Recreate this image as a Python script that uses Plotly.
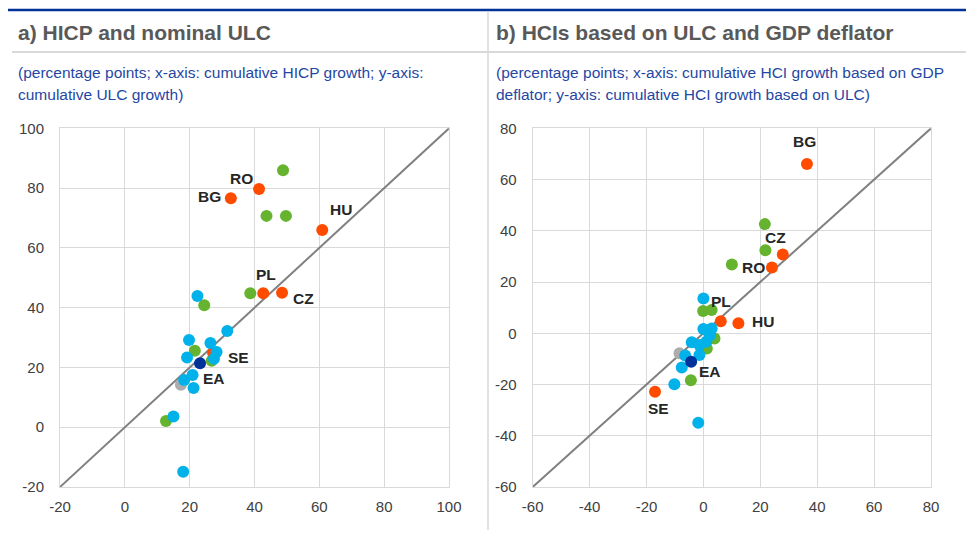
import plotly.graph_objects as go

W, H = 966, 535

# ---------------- data ----------------
# Panel a: x = cumulative HICP growth, y = cumulative ULC growth
a_orange_names = ["BG", "CZ", "HU", "PL", "RO", "SE"]
a_orange_x = [32.7, 48.5, 60.9, 42.7, 41.4, 27.2]
a_orange_y = [76.6, 45.0, 66.0, 44.8, 79.7, 24.9]
a_green_x = [48.8, 43.7, 49.7, 38.7, 24.5, 21.6, 26.8, 12.7]
a_green_y = [86.0, 70.7, 70.7, 44.8, 40.8, 25.6, 22.2, 2.1]
a_cyan_x = [22.4, 31.6, 19.8, 26.4, 28.3, 27.5, 19.2, 20.9, 18.3, 21.2, 15.0, 18.0]
a_cyan_y = [43.9, 32.2, 29.2, 28.2, 25.2, 22.9, 23.3, 17.5, 15.8, 13.1, 3.6, -14.9]
a_gray_x = [17.3]
a_gray_y = [14.2]
a_ea_x = [23.2]
a_ea_y = [21.4]

# Panel b: x = HCI growth (GDP deflator), y = HCI growth (ULC)
b_orange_names = ["BG", "CZ", "HU", "PL", "RO", "SE"]
b_orange_x = [36.4, 27.9, 12.3, 6.1, 24.1, -17.0]
b_orange_y = [66.1, 30.7, 3.9, 4.7, 25.7, -22.8]
b_green_x = [21.6, 21.8, 10.0, -0.1, 2.9, 3.9, 1.2, -4.4]
b_green_y = [42.6, 32.4, 26.8, 8.7, 9.1, -2.0, -5.9, -18.3]
b_cyan_x = [0.0, 0.0, 2.9, -4.1, 1.0, -1.4, 2.3, -6.4, -1.4, -7.6, -10.2, -1.8]
b_cyan_y = [13.6, 1.7, 1.9, -3.5, -3.3, -4.6, -0.8, -8.7, -8.5, -13.4, -19.9, -34.9]
b_gray_x = [-8.4]
b_gray_y = [-7.8]
b_ea_x = [-4.3]
b_ea_y = [-11.1]

a_range = [-20, 100]
b_range = [-60, 80]
a_ticks = [-20, 0, 20, 40, 60, 80, 100]
b_ticks = [-60, -40, -20, 0, 20, 40, 60, 80]
a_ticktext = [str(v) for v in a_ticks]
b_ticktext = [str(v) for v in b_ticks]

titles = ["a) HICP and nominal ULC", "b) HCIs based on ULC and GDP deflator"]
subtitles = [
    ["(percentage points; x-axis: cumulative HICP growth; y-axis:", "cumulative ULC growth)"],
    ["(percentage points; x-axis: cumulative HCI growth based on GDP", "deflator; y-axis: cumulative HCI growth based on ULC)"],
]

# label offsets in pixels (dx, dy) for each named country, per panel
a_label_shift = {"BG": (-21, 2), "CZ": (21, -6), "HU": (19, 20), "PL": (3, 19), "RO": (-18, 10), "SE": (25, -5)}
b_label_shift = {"BG": (-2, 22), "CZ": (-7, 17), "HU": (25, 2), "PL": (0, 20), "RO": (-18, 0), "SE": (3, -17)}
a_ea_shift = (14, -15)
b_ea_shift = (19, -10)

# ---------------- styles ----------------
ORANGE = "#FF4B00"
GREEN = "#65B32E"
CYAN = "#00B1EA"
NAVY = "#003299"
GRAY = "#ADADAD"
FONT = "Liberation Sans, Arial, sans-serif"
MS = 12

fig = go.Figure()


def add_panel(xa, ya, rng, ox, oy, gx, gy, cx, cy, grx, gry, ex, ey):
    fig.add_trace(go.Scatter(x=rng, y=rng, mode="lines", line=dict(color="#808080", width=2),
                             xaxis=xa, yaxis=ya, hoverinfo="skip", showlegend=False))
    fig.add_trace(go.Scatter(x=grx, y=gry, mode="markers", marker=dict(color=GRAY, size=MS),
                             xaxis=xa, yaxis=ya, showlegend=False))
    fig.add_trace(go.Scatter(x=ox, y=oy, mode="markers", marker=dict(color=ORANGE, size=MS),
                             xaxis=xa, yaxis=ya, showlegend=False))
    fig.add_trace(go.Scatter(x=gx, y=gy, mode="markers", marker=dict(color=GREEN, size=MS),
                             xaxis=xa, yaxis=ya, showlegend=False))
    fig.add_trace(go.Scatter(x=cx, y=cy, mode="markers", marker=dict(color=CYAN, size=MS),
                             xaxis=xa, yaxis=ya, showlegend=False))
    fig.add_trace(go.Scatter(x=ex, y=ey, mode="markers", marker=dict(color=NAVY, size=MS),
                             xaxis=xa, yaxis=ya, showlegend=False))


add_panel("x", "y", a_range, a_orange_x, a_orange_y, a_green_x, a_green_y, a_cyan_x, a_cyan_y,
          a_gray_x, a_gray_y, a_ea_x, a_ea_y)
add_panel("x2", "y2", b_range, b_orange_x, b_orange_y, b_green_x, b_green_y, b_cyan_x, b_cyan_y,
          b_gray_x, b_gray_y, b_ea_x, b_ea_y)

annotations = []
lab_font = dict(family=FONT, size=15.5, color="#262626", weight="bold")


def add_labels(names, xs, ys, shifts, xref, yref, ex, ey, eshift):
    for n, x, y in zip(names, xs, ys):
        dx, dy = shifts[n]
        annotations.append(dict(x=x, y=y, xref=xref, yref=yref, text=n, showarrow=False,
                                xshift=dx, yshift=dy, font=lab_font))
    annotations.append(dict(x=ex[0], y=ey[0], xref=xref, yref=yref, text="EA", showarrow=False,
                            xshift=eshift[0], yshift=eshift[1], font=lab_font))


add_labels(a_orange_names, a_orange_x, a_orange_y, a_label_shift, "x", "y", a_ea_x, a_ea_y, a_ea_shift)
add_labels(b_orange_names, b_orange_x, b_orange_y, b_label_shift, "x2", "y2", b_ea_x, b_ea_y, b_ea_shift)


def px(xp):
    return xp / W


def py(yp):
    return 1 - yp / H


for i, x0 in enumerate([16, 494]):
    annotations.append(dict(x=px(x0), y=py(32), xref="paper", yref="paper", xanchor="left",
                            yanchor="middle", showarrow=False, text="<b>" + titles[i] + "</b>",
                            font=dict(family=FONT, size=21, color="#595959")))
    for j, yy in enumerate([73, 94]):
        annotations.append(dict(x=px(x0), y=py(yy), xref="paper", yref="paper", xanchor="left",
                                yanchor="middle", showarrow=False, text=subtitles[i][j],
                                font=dict(family=FONT, size=15.5, color="#1F47A3")))

shapes = [
    dict(type="line", xref="paper", yref="paper", x0=px(8), x1=px(966), y0=py(10), y1=py(10),
         line=dict(color="#003299", width=2.5)),
    dict(type="line", xref="paper", yref="paper", x0=px(12), x1=px(966), y0=py(52), y1=py(52),
         line=dict(color="#D9D9D9", width=2)),
    dict(type="line", xref="paper", yref="paper", x0=px(488), x1=px(488), y0=py(11), y1=py(530),
         line=dict(color="#D9D9D9", width=1.5)),
]

ydom = [py(487), py(128.3)]
axis_common = dict(showgrid=True, gridcolor="#D9D9D9", gridwidth=1, zeroline=False,
                   showline=True, linecolor="#D9D9D9", linewidth=1, mirror=True,
                   ticks="", tickfont=dict(family=FONT, size=15, color="#404040"),
                   tickmode="array", automargin=False, fixedrange=True)

fig.update_layout(
    template="none",
    width=W, height=H,
    margin=dict(l=0, r=0, t=0, b=0, pad=0, autoexpand=False),
    paper_bgcolor="white", plot_bgcolor="white",
    showlegend=False,
    xaxis=dict(domain=[px(60), px(449)], range=a_range, anchor="y", tickvals=a_ticks, ticktext=a_ticktext,
               ticklabelstandoff=6, **axis_common),
    yaxis=dict(domain=ydom, range=a_range, anchor="x", tickvals=a_ticks, ticktext=a_ticktext,
               ticklabelstandoff=12, **axis_common),
    xaxis2=dict(domain=[px(532.7), px(931)], range=b_range, anchor="y2", tickvals=b_ticks, ticktext=b_ticktext,
                ticklabelstandoff=6, **axis_common),
    yaxis2=dict(domain=ydom, range=b_range, anchor="x2", tickvals=b_ticks, ticktext=b_ticktext,
                ticklabelstandoff=12, **axis_common),
    annotations=annotations,
    shapes=shapes,
)

fig.write_html("out.html", config={"displayModeBar": False},
               post_script="document.body.style.margin='0px';")
